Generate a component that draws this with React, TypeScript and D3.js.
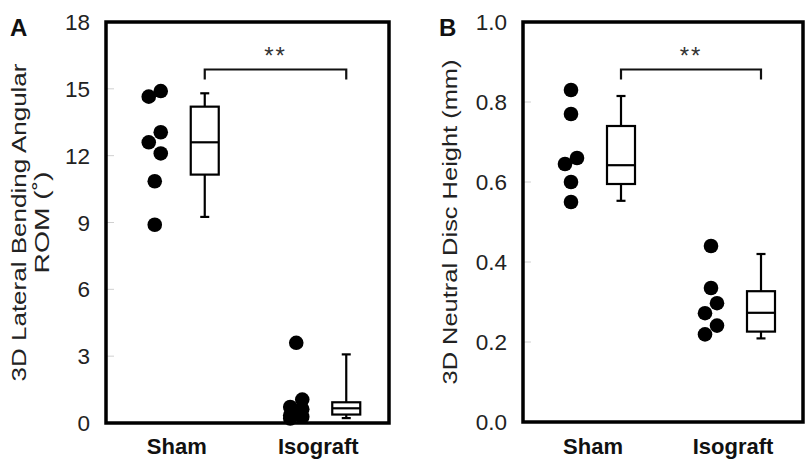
import React from "react";
import * as d3 from "d3";

// groups on the x axis
const categories = ["Sham", "Isograft"];

// panel A: 3D lateral bending angular ROM (deg)
const romSham = [14.65, 14.9, 13.05, 12.6, 12.1, 10.85, 8.9];
const romIsograft = [3.6, 1.05, 0.72, 0.62, 0.35, 0.28, 0.2];
// box stats: lower whisker, q1, median, q3, upper whisker
const romBoxSham = [9.25, 11.15, 12.6, 14.2, 14.8];
const romBoxIsograft = [0.22, 0.38, 0.66, 0.93, 3.08];
const romTicks = [0, 3, 6, 9, 12, 15, 18];

// panel B: 3D neutral disc height (mm)
const heightSham = [0.83, 0.77, 0.66, 0.645, 0.6, 0.55];
const heightIsograft = [0.44, 0.335, 0.297, 0.272, 0.241, 0.219];
const heightBoxSham = [0.553, 0.595, 0.642, 0.74, 0.815];
const heightBoxIsograft = [0.209, 0.226, 0.273, 0.327, 0.42];
const heightTicks = [0, 0.2, 0.4, 0.6, 0.8, 1.0];

const FONT = "'Liberation Sans', Arial, Helvetica, sans-serif";
const R = 7.3; // dot radius
const JIT = 6; // sideways shift for overlapping dots

// put overlapping dots side by side, single dots stay on the centre line
function dodge(values: number[], y: (v: number) => number) {
  const sorted = values.map((v) => ({ v, py: y(v) })).sort((a, b) => a.py - b.py);
  const out: { v: number; py: number; side: number }[] = [];
  let cluster: typeof sorted = [];
  const flush = () => {
    cluster.forEach((d, i) => out.push({ ...d, side: cluster.length > 1 ? (i % 2 === 0 ? 1 : -1) : 0 }));
    cluster = [];
  };
  sorted.forEach((d) => {
    if (cluster.length && d.py - cluster[cluster.length - 1].py >= 14) flush();
    cluster.push(d);
  });
  flush();
  return out;
}

type PanelProps = {
  letter: string;
  left: number;
  right: number;
  top: number;
  bottom: number;
  domain: [number, number];
  ticks: number[];
  fmt: (v: number) => string;
  dots: number[][];
  boxes: number[][];
  labelLines: { text: string; x: number; len: number }[];
  letterX: number;
};

function Panel(p: PanelProps) {
  const y = d3.scaleLinear().domain(p.domain).range([p.bottom, p.top]);
  const x = d3.scalePoint<string>().domain(categories).range([p.left, p.right]).padding(0.5);
  const sub = d3.scalePoint<string>().domain(["dots", "box"]).range([-22, 28]);
  const boxW = 28;
  const cap = 4.5;
  const midY = (p.top + p.bottom) / 2;
  const bx0 = x(categories[0])! + sub("box")!;
  const bx1 = x(categories[1])! + sub("box")!;
  const brY = p.top + 47.5;

  return (
    <g>
      <text x={p.letterX} y={36} fontFamily={FONT} fontWeight="bold" fontSize={24} fill="#111">
        {p.letter}
      </text>
      {p.labelLines.map((l, i) => (
        <text
          key={i}
          transform={`translate(${l.x},${midY}) rotate(-90)`}
          textAnchor="middle"
          fontFamily={FONT}
          fontSize={21}
          fill="#222"
          textLength={l.len}
          lengthAdjust="spacingAndGlyphs"
        >
          {l.text}
        </text>
      ))}
      {p.ticks.map((t) => (
        <g key={t}>
          <line x1={p.left} x2={p.left + 8} y1={y(t)} y2={y(t)} stroke="#d0d0d0" strokeWidth={1} />
          <text
            x={p.left - 16}
            y={y(t)}
            dy="0.36em"
            textAnchor="end"
            fontFamily={FONT}
            fontSize={22.5}
            fill="#222"
          >
            {p.fmt(t)}
          </text>
        </g>
      ))}
      {categories.map((c) => (
        <text
          key={c}
          x={x(c)}
          y={454}
          textAnchor="middle"
          fontFamily={FONT}
          fontWeight="bold"
          fontSize={22}
          fill="#111"
        >
          {c}
        </text>
      ))}
      {categories.map((c, ci) =>
        dodge(p.dots[ci], y).map((d, i) => (
          <circle key={c + i} cx={x(c)! + sub("dots")! + d.side * JIT} cy={d.py} r={R} fill="#000" />
        ))
      )}
      {categories.map((c, ci) => {
        const [lo, q1, med, q3, hi] = p.boxes[ci];
        const cx = x(c)! + sub("box")!;
        return (
          <g key={c} stroke="#000" strokeWidth={2.2} fill="#fff">
            <line x1={cx} x2={cx} y1={y(hi)} y2={y(q3)} />
            <line x1={cx} x2={cx} y1={y(q1)} y2={y(lo)} />
            <line x1={cx - cap} x2={cx + cap} y1={y(hi)} y2={y(hi)} />
            <line x1={cx - cap} x2={cx + cap} y1={y(lo)} y2={y(lo)} />
            <rect x={cx - boxW / 2} y={y(q3)} width={boxW} height={y(q1) - y(q3)} />
            <line x1={cx - boxW / 2} x2={cx + boxW / 2} y1={y(med)} y2={y(med)} />
          </g>
        );
      })}
      <path
        d={`M${bx0},${brY + 10}V${brY}H${bx1}V${brY + 10}`}
        fill="none"
        stroke="#111"
        strokeWidth={2.2}
      />
      <text
        x={(bx0 + bx1) / 2}
        y={brY - 6}
        textAnchor="middle"
        fontFamily={FONT}
        fontSize={24}
        letterSpacing={2}
        fill="#333"
      >
        **
      </text>
      <rect
        x={p.left}
        y={p.top}
        width={p.right - p.left}
        height={p.bottom - p.top}
        fill="none"
        stroke="#000"
        strokeWidth={3.5}
      />
    </g>
  );
}

export default function App() {
  return (
    <svg
      width={805}
      height={459}
      style={{ position: "absolute", left: 0, top: 0, background: "#fff" }}
    >
      <Panel
        letter="A"
        letterX={10}
        left={106}
        right={389}
        top={22}
        bottom={423}
        domain={[0, 18]}
        ticks={romTicks}
        fmt={(v) => String(v)}
        dots={[romSham, romIsograft]}
        boxes={[romBoxSham, romBoxIsograft]}
        labelLines={[
          { text: "3D Lateral Bending Angular", x: 26, len: 318 },
          { text: "ROM (˚)", x: 49, len: 102 },
        ]}
      />
      <Panel
        letter="B"
        letterX={439}
        left={523}
        right={803}
        top={22}
        bottom={422}
        domain={[0, 1]}
        ticks={heightTicks}
        fmt={d3.format(".1f")}
        dots={[heightSham, heightIsograft]}
        boxes={[heightBoxSham, heightBoxIsograft]}
        labelLines={[{ text: "3D Neutral Disc Height (mm)", x: 457, len: 325 }]}
      />
    </svg>
  );
}
